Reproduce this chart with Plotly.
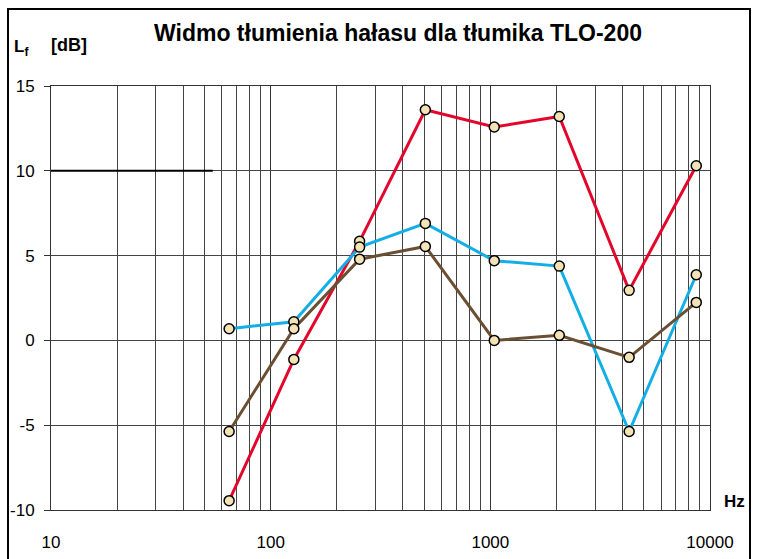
import plotly.graph_objects as go

# octave band centres as they sit on the chart (Hz)
freqs = [64.7, 127.5, 254, 506, 1042, 2060, 4285, 8660]

red_vals = [-9.45, -1.12, 5.84, 13.6, 12.58, 13.2, 2.95, 10.3]
blue_vals = [0.69, 1.1, 5.5, 6.9, 4.7, 4.38, -5.37, 3.87]
brown_vals = [-5.37, 0.69, 4.79, 5.54, 0.0, 0.3, -1.0, 2.24]

# short black reference segment at 10 dB on the left
ref_x = [10, 54.5]
ref_y = [10, 10]

x_tickvals = [10, 100, 1000, 10000]
x_ticktext = ['10', '100', '1000', '10000']
y_tickvals = [-10, -5, 0, 5, 10, 15]
y_ticktext = ['-10', '-5', '0', '5', '10', '15']

series = [
    ('red', red_vals, '#e3062c'),
    ('blue', blue_vals, '#13aee6'),
    ('brown', brown_vals, '#6b4f33'),
]

fig = go.Figure()

fig.add_trace(go.Scatter(
    x=ref_x, y=ref_y, mode='lines',
    line=dict(color='black', width=2), hoverinfo='skip'
))

# lines first, markers on top
for name, vals, color in series:
    fig.add_trace(go.Scatter(
        x=freqs, y=vals, mode='lines', name=name,
        line=dict(color=color, width=3)
    ))
for name, vals, color in series:
    fig.add_trace(go.Scatter(
        x=freqs, y=vals, mode='markers', name=name,
        marker=dict(size=10, color='#f4e3b5',
                    line=dict(color='black', width=1.5))
    ))

W, H = 759, 559
L, R, T, B = 51, 49, 86, 49
pw, ph = W - L - R, H - T - B


def px(x):
    return (x - L) / pw


def py(y):
    return (H - B - y) / ph


fig.update_layout(
    width=W, height=H,
    margin=dict(l=L, r=R, t=T, b=B, autoexpand=False),
    paper_bgcolor='white', plot_bgcolor='white',
    showlegend=False,
    font=dict(family='Liberation Sans, Arial', color='black', size=17),
    title=dict(
        text='<b>Widmo tłumienia hałasu dla tłumika TLO-200</b>',
        x=398 / W, xref='container', xanchor='center',
        y=1 - 33 / H, yref='container', yanchor='middle',
        font=dict(size=23)
    ),
    xaxis=dict(
        type='log', range=[1, 4], automargin=False,
        tickvals=x_tickvals, ticktext=x_ticktext,
        showgrid=True, gridcolor='#333', gridwidth=1,
        minor=dict(dtick='D1', showgrid=True, gridcolor='#444', gridwidth=1, ticks=''),
        ticks='', ticklabelstandoff=17, zeroline=False,
        showline=True, mirror=True, linecolor='#333', linewidth=1
    ),
    yaxis=dict(
        range=[-10, 15], automargin=False,
        tickvals=y_tickvals, ticktext=y_ticktext,
        showgrid=True, gridcolor='#444', gridwidth=1,
        ticks='outside', ticklen=6, tickcolor='#333', tickwidth=1,
        ticklabelstandoff=6, zeroline=False,
        showline=True, mirror=True, linecolor='#333', linewidth=1
    ),
    shapes=[dict(
        type='rect', xref='paper', yref='paper',
        x0=px(8), x1=px(750), y0=py(575), y1=py(9),
        line=dict(color='black', width=2), layer='above'
    )],
    annotations=[
        dict(text='<b>L<sub>f</sub></b>', xref='paper', yref='paper',
             x=px(12), y=py(48), xanchor='left', yanchor='middle',
             showarrow=False, font=dict(size=17)),
        dict(text='<b>[dB]</b>', xref='paper', yref='paper',
             x=px(49), y=py(45), xanchor='left', yanchor='middle',
             showarrow=False, font=dict(size=18)),
        dict(text='<b>Hz</b>', xref='paper', yref='paper',
             x=px(734), y=py(501), xanchor='center', yanchor='middle',
             showarrow=False, font=dict(size=17)),
    ],
)

fig.write_html('out.html', config={'displayModeBar': False},
               post_script="document.body.style.margin='0';")
